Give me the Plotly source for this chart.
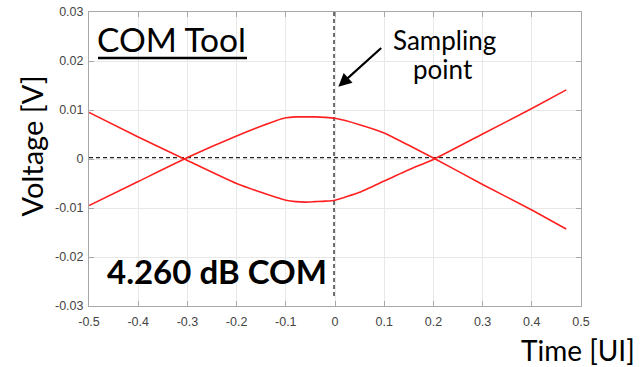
import plotly.graph_objects as go

# ---- data ----
time_ui = [-0.5, -0.4, -0.3, -0.2, -0.12, -0.1, -0.08, -0.06, -0.04, -0.02, 0.0,
           0.05, 0.1, 0.15, 0.2, 0.3, 0.4, 0.47]
upper_v = [-0.0095, -0.0046, 0.0003, 0.0047, 0.0078, 0.0084, 0.0086, 0.0086, 0.0086,
           0.0085, 0.0083, 0.0070, 0.0053, 0.0028, 0.0002, -0.0052, -0.0104, -0.0143]
lower_v = [0.0095, 0.0045, -0.0003, -0.0050, -0.0078, -0.0084, -0.0087, -0.0088, -0.0087,
           -0.0086, -0.0084, -0.0068, -0.0045, -0.0022, -0.0001, 0.0051, 0.0103, 0.0141]
sampling_time = -0.002
threshold_v = 0.0003
x_ticks = [-0.5, -0.4, -0.3, -0.2, -0.1, 0, 0.1, 0.2, 0.3, 0.4, 0.5]
x_tick_labels = ["-0.5", "-0.4", "-0.3", "-0.2", "-0.1", "0", "0.1", "0.2", "0.3", "0.4", "0.5"]
y_ticks = [-0.03, -0.02, -0.01, 0, 0.01, 0.02, 0.03]
y_tick_labels = ["-0.03", "-0.02", "-0.01", "0", "0.01", "0.02", "0.03"]
com_text = "4.260 dB COM"

# ---- layout geometry (pixels) ----
W, H = 641, 367
L, R, T, B = 89, 60, 12, 61
PW, PH = W - L - R, H - T - B


def px(x):
    return (x - L) / PW


def py(y):
    return (H - B - y) / PH


SANS = "Lato"
fig = go.Figure()

fig.add_trace(go.Scatter(x=[-0.5, 0.5], y=[threshold_v, threshold_v], mode="lines",
                         line=dict(color="#222222", width=1.2, dash="4px,3px"),
                         hoverinfo="skip", showlegend=False))
fig.add_trace(go.Scatter(x=[sampling_time, sampling_time], y=[0.03, -0.0285], mode="lines",
                         line=dict(color="#111111", width=1.2, dash="4px,3px"),
                         hoverinfo="skip", showlegend=False))
fig.add_trace(go.Scatter(x=time_ui, y=upper_v, mode="lines",
                         line=dict(color="#ff2020", width=1.6, shape="spline", smoothing=0.5),
                         showlegend=False))
fig.add_trace(go.Scatter(x=time_ui, y=lower_v, mode="lines",
                         line=dict(color="#ff2020", width=1.6, shape="spline", smoothing=0.5),
                         showlegend=False))

axis_common = dict(showgrid=True, gridcolor="#e8e8e8", gridwidth=1,
                   showline=True, linecolor="#a8a8a8", linewidth=1, mirror="ticks",
                   ticks="inside", ticklen=5, tickcolor="#a8a8a8",
                   tickfont=dict(family="Liberation Sans, Arial", size=12.5, color="#444444"),
                   zeroline=False, automargin=False)

fig.update_xaxes(range=[-0.5, 0.5], tickvals=x_ticks, ticktext=x_tick_labels,
                 ticklabelstandoff=4, **axis_common)
fig.update_yaxes(range=[-0.03, 0.03], tickvals=y_ticks, ticktext=y_tick_labels,
                 ticklabelstandoff=2, **axis_common)

annotations = [
    dict(text="Time [UI]", x=px(637), y=py(350), xanchor="right", yanchor="middle",
         font=dict(family=SANS, size=28, color="#000000")),
    dict(text="Voltage [V]", x=px(31), y=py(146.5), xanchor="center", yanchor="middle",
         textangle=-90, font=dict(family=SANS, size=29, color="#000000")),
    dict(text="COM Tool", x=px(171.5), y=py(39), xanchor="center", yanchor="middle",
         font=dict(family=SANS, size=33.5, color="#000000")),
    dict(text=com_text, x=px(217), y=py(270.5), xanchor="center", yanchor="middle",
         font=dict(family=SANS, size=33, color="#000000", weight="bold")),
    dict(text="Sampling", x=px(444), y=py(40), xanchor="center", yanchor="middle",
         font=dict(family=SANS, size=26, color="#000000")),
    dict(text="point", x=px(443), y=py(69), xanchor="center", yanchor="middle",
         font=dict(family=SANS, size=26, color="#000000")),
    dict(text="", x=px(338.3), y=py(86.7), ax=382.7 - 338.3, ay=46.7 - 86.7,
         axref="pixel", ayref="pixel", showarrow=True, arrowhead=2, arrowsize=1.2,
         arrowwidth=2.2, arrowcolor="#000000", standoff=0),
]
for a in annotations:
    a.setdefault("showarrow", False)
    a.setdefault("xref", "paper")
    a.setdefault("yref", "paper")

shapes = [
    dict(type="line", xref="paper", yref="paper", x0=px(98), x1=px(247),
         y0=py(58), y1=py(58), line=dict(color="#000000", width=2.6)),
]

fig.update_layout(width=W, height=H, margin=dict(l=L, r=R, t=T, b=B, autoexpand=False),
                  paper_bgcolor="white", plot_bgcolor="white",
                  annotations=annotations, shapes=shapes, showlegend=False)

fig.write_html("out.html")
